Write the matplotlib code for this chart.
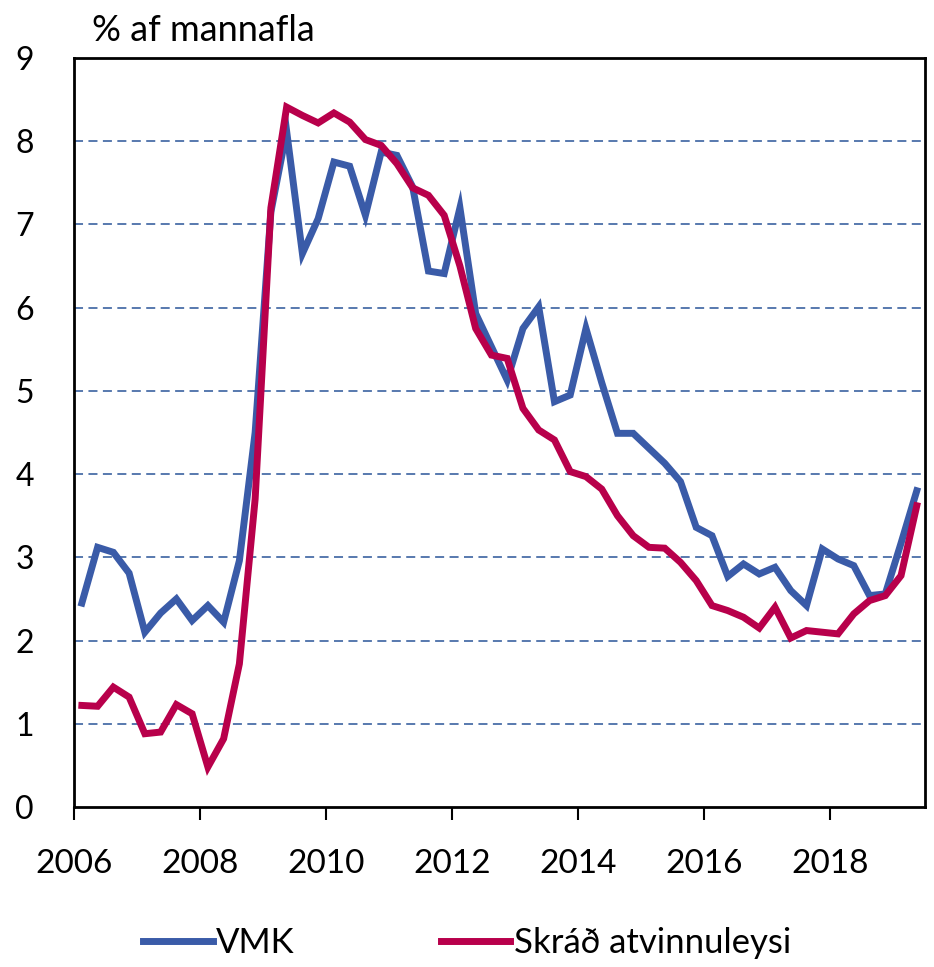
import numpy as np
import matplotlib.pyplot as plt
import matplotlib.transforms as mtransforms

plt.rcParams['font.family'] = ['Lato', 'DejaVu Sans']

# quarterly data 2006Q1 - 2019Q2
vmk = [2.45, 3.12, 3.06, 2.81, 2.10, 2.33, 2.50, 2.24, 2.42, 2.22,
       2.96, 4.50, 7.15, 8.12, 6.65, 7.07, 7.75, 7.70, 7.11, 7.87,
       7.83, 7.45, 6.44, 6.41, 7.20, 5.93, 5.53, 5.13, 5.75, 6.01,
       4.87, 4.95, 5.75, 5.10, 4.49, 4.49, 4.31, 4.13, 3.91, 3.36,
       3.26, 2.77, 2.92, 2.80, 2.88, 2.60, 2.42, 3.10, 2.98, 2.90,
       2.54, 2.56, 3.17, 3.80]
skrad = [1.22, 1.21, 1.44, 1.32, 0.88, 0.90, 1.23, 1.12, 0.48, 0.82,
         1.72, 3.70, 7.20, 8.41, 8.31, 8.22, 8.34, 8.23, 8.02, 7.95,
         7.73, 7.44, 7.35, 7.11, 6.50, 5.75, 5.43, 5.39, 4.79, 4.53,
         4.41, 4.03, 3.97, 3.82, 3.50, 3.26, 3.12, 3.11, 2.94, 2.72,
         2.42, 2.36, 2.28, 2.15, 2.40, 2.03, 2.12, 2.10, 2.08, 2.32,
         2.48, 2.54, 2.78, 3.62]
start_year = 2006
years = [2006, 2008, 2010, 2012, 2014, 2016, 2018]

x = start_year + (np.arange(len(vmk)) + 0.5) / 4

fig = plt.figure(figsize=(9.34, 9.67), dpi=100)
ax = fig.add_axes([0.0792, 0.1655, 0.9108, 0.7745])

ax.plot(x, vmk, color='#3a5ba8', lw=5, label='VMK', solid_joinstyle='miter', zorder=3)
ax.plot(x, skrad, color='#b8004b', lw=5, label='Skráð atvinnuleysi', solid_joinstyle='miter', zorder=4)

ax.set_xlim(2006, 2019.5)
ax.set_ylim(0, 9)
ax.set_yticks(range(0, 10))
ax.set_xticks(years)
ax.set_xticklabels([str(y) for y in years])
# labels sit a little right of the tick marks, as in the original
shift = mtransforms.ScaledTranslation(0.09, 0, fig.dpi_scale_trans)
for lbl in ax.get_xticklabels():
    lbl.set_transform(lbl.get_transform() + shift)
for yv in range(1, 9):
    ax.axhline(yv, color='#4a6ea8', lw=1.3, ls=(0, (5, 3)), zorder=1)

ax.tick_params(axis='x', direction='out', length=9, width=1.5, labelsize=24, pad=21)
ax.tick_params(axis='y', length=0, labelsize=23, pad=29)
for s in ax.spines.values():
    s.set_linewidth(2)
    s.set_color('black')

fig.text(0.099, 0.968, '% af mannafla', fontsize=26, ha='left', va='center')

fig.legend(loc='lower center', bbox_to_anchor=(0.5, -0.024), ncol=2, frameon=False,
           fontsize=25, handlelength=2.0, handletextpad=0.1, columnspacing=4.2)

fig.savefig('out.png', dpi=100)
